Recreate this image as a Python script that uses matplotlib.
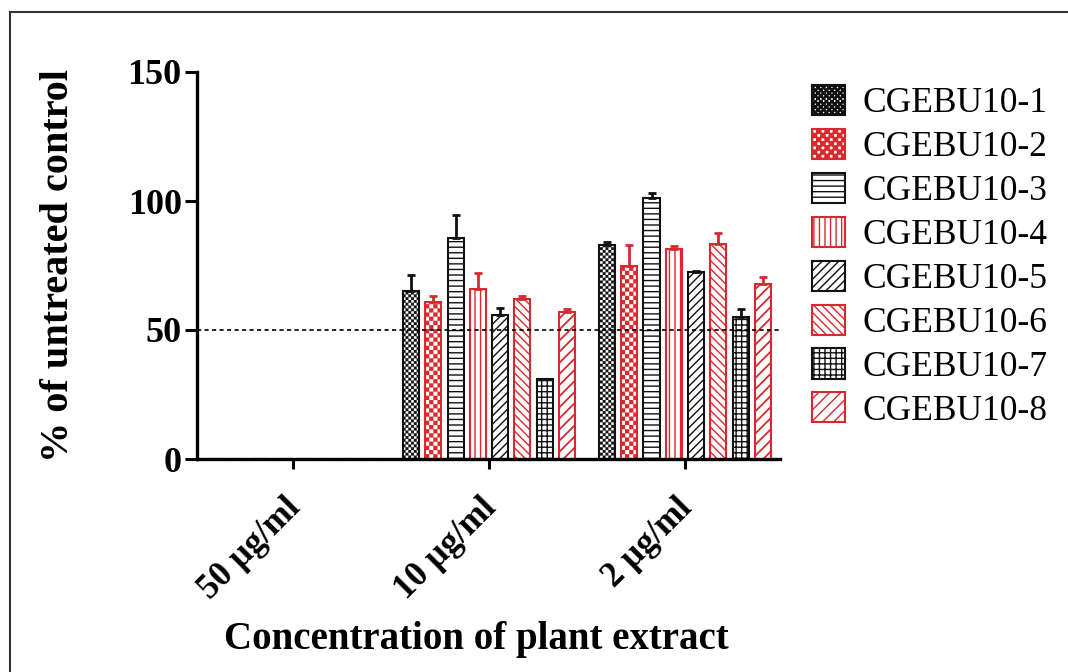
import warnings
warnings.filterwarnings("ignore")
import numpy as np
import matplotlib
matplotlib.use("Agg")
import matplotlib.pyplot as plt
import matplotlib.hatch as mhatch
from matplotlib.path import Path
from matplotlib.lines import Line2D
from matplotlib.transforms import ScaledTranslation

# ---------------- data ----------------
categories = ["50 µg/ml", "10 µg/ml", "2 µg/ml"]
series = ["CGEBU10-1", "CGEBU10-2", "CGEBU10-3", "CGEBU10-4",
          "CGEBU10-5", "CGEBU10-6", "CGEBU10-7", "CGEBU10-8"]
s1 = [0, 65.0, 83.0]
s2 = [0, 61.0, 75.0]
s3 = [0, 85.5, 101.0]
s4 = [0, 66.0, 81.5]
s5 = [0, 56.0, 72.5]
s6 = [0, 62.0, 83.5]
s7 = [0, 31.0, 55.0]
s8 = [0, 57.0, 68.0]
e1 = [0, 6.5, 1.0]
e2 = [0, 2.0, 8.0]
e3 = [0, 9.0, 2.0]
e4 = [0, 6.0, 1.0]
e5 = [0, 2.5, 0.5]
e6 = [0, 1.2, 4.0]
e7 = [0, 0.0, 3.0]
e8 = [0, 1.2, 2.5]
values = [s1, s2, s3, s4, s5, s6, s7, s8]
errors = [e1, e2, e3, e4, e5, e6, e7, e8]
threshold = 50
yticks = [0, 50, 100, 150]

# ---------------- custom checkerboard hatch ----------------
class CheckerHatch(mhatch.HatchPatternBase):
    def __init__(self, hatch, density):
        n = int(hatch.count('c') * density)
        if n % 2:
            n += 1
        self.n = n
        self.num_vertices = (n * n // 2) * 5 if n else 0

    def set_vertices_and_codes(self, vertices, codes):
        n = self.n
        s = 1.0 / n
        k = 0
        for i in range(n):
            for j in range(n):
                if (i + j) % 2 == 0:
                    x0, y0 = i * s, j * s
                    vertices[k:k + 5] = [(x0, y0), (x0 + s, y0), (x0 + s, y0 + s),
                                         (x0, y0 + s), (x0, y0)]
                    codes[k] = Path.MOVETO
                    codes[k + 1:k + 4] = Path.LINETO
                    codes[k + 4] = Path.CLOSEPOLY
                    k += 5

mhatch._hatch_types.append(CheckerHatch)

RED = "#d62a30"
BLK = "#111111"
colors = [BLK, RED, BLK, RED, BLK, RED, BLK, RED]
hatches = ["cccccc", "cccc", "---", "|||", "////", "\\\\\\\\", "+++", "///"]
hlw = [0.1, 0.1, 1.0, 1.0, 1.0, 1.0, 1.0, 1.3]

plt.rcParams['font.family'] = ['Liberation Serif', 'DejaVu Serif']
plt.rcParams['hatch.linewidth'] = 1.0

fig = plt.figure(figsize=(10.68, 6.72), dpi=100)
ax = fig.add_axes([197 / 1068, 1 - 459 / 672, (780 - 197) / 1068, (459 - 72) / 672])

x = np.arange(len(categories))
step = 0.1138
width = 0.082

for i in range(len(series)):
    pos = x + (i - 3.5) * step
    with plt.rc_context({'hatch.linewidth': hlw[i]}):
        bars = ax.bar(pos, values[i], width=width, color="white",
                      edgecolor=colors[i], hatch=hatches[i], linewidth=1.5,
                      label=series[i], zorder=2)
        for b in bars:
            b._hatch_color = matplotlib.colors.to_rgba(colors[i])
            if hasattr(b, "set_hatch_linewidth"):
                b.set_hatch_linewidth(hlw[i])
    v = np.array(values[i], dtype=float)
    e = np.array(errors[i], dtype=float)
    m = v > 0
    ax.errorbar(pos[m], v[m], yerr=[np.zeros(m.sum()), e[m]], fmt="none",
                ecolor=colors[i], elinewidth=2.0, capsize=3, capthick=2.0,
                zorder=3)

ax.axhline(threshold, color="black", linestyle=(0, (2.5, 2)), linewidth=1.2,
           zorder=4)

ax.set_xlim(-0.49, 2.485)
ax.set_ylim(0, 150)
ax.set_yticks(yticks)
ax.set_xticks(x)
ax.tick_params(axis="y", length=9, width=2.2, pad=2)
ax.tick_params(axis="x", length=7, width=2.2, pad=12)
ax.set_xticklabels(categories, rotation=45, ha="right", rotation_mode="anchor",
                   fontsize=25, fontweight="bold")
shift = ScaledTranslation(-9 / 100, -6 / 100, fig.dpi_scale_trans)
for lab in ax.get_xticklabels():
    lab.set_transform(lab.get_transform() + shift)
for lab in ax.get_yticklabels():
    lab.set_fontsize(26)
    lab.set_fontweight("bold")
for sp in ["top", "right"]:
    ax.spines[sp].set_visible(False)
for sp in ["left", "bottom"]:
    ax.spines[sp].set_linewidth(2.4)

ax.set_ylabel("% of untreated control", fontsize=29, fontweight="bold")
ax.yaxis.set_label_coords(-0.205, 0.5)
ax.set_xlabel("Concentration of plant extract", fontsize=28, fontweight="bold")
ax.xaxis.set_label_coords(0.4785, -0.418)

handles, labels = ax.get_legend_handles_labels()
leg = fig.legend(handles[:8], labels[:8], loc="upper left",
                 bbox_to_anchor=(812 / 1068, 1 - 85 / 672), frameon=False,
                 fontsize=25.5, handlelength=0.93, handleheight=0.93,
                 handletextpad=0.5, labelspacing=0.245, borderpad=0,
                 borderaxespad=0)

# figure border (left and top)
fig.add_artist(Line2D([10 / 1068, 10 / 1068], [0, 1 - 12 / 672],
                      transform=fig.transFigure, color="#333333", linewidth=1.5))
fig.add_artist(Line2D([10 / 1068, 1], [1 - 12 / 672, 1 - 12 / 672],
                      transform=fig.transFigure, color="#333333", linewidth=1.5))

fig.savefig("out.png", dpi=100)
